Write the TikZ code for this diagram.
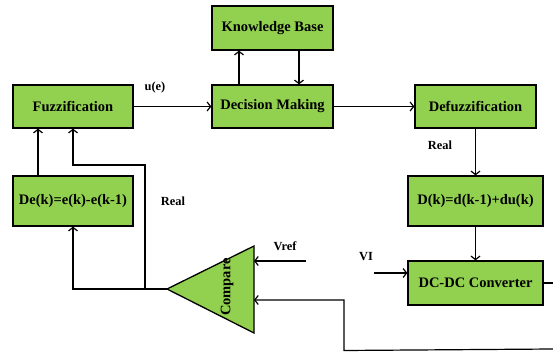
\documentclass[tikz,border=0pt]{standalone}
\usepackage{fontspec}
\setmainfont{Liberation Serif}
\usetikzlibrary{arrows.meta}
\definecolor{blockgreen}{RGB}{146,208,80}
\tikzset{
  block/.style={draw=black, line width=1.3pt, fill=blockgreen, inner sep=0pt,
    font=\fontsize{14.5}{16}\selectfont\bfseries, align=center},
  wire/.style={draw=black, line width=1.2pt},
  arr/.style={wire, -{Straight Barb[length=3.5pt,width=9pt,line width=1.2pt]}},
  lbl/.style={font=\fontsize{12.4}{14}\selectfont\bfseries, inner sep=0pt}
}
\begin{document}
\begin{tikzpicture}[x=1pt,y=-1pt]
\useasboundingbox (0,0) rectangle (553,352);

% blocks
\node[block, minimum width=121pt, minimum height=44pt] (kb) at (272.5,28) {Knowledge Base};
\node[block, minimum width=120pt, minimum height=43pt] (fuzz) at (73,106.5) {Fuzzification};
\node[block, minimum width=121pt, minimum height=43pt] (dm) at (272.5,106.5) {Decision Making};
\node[block, minimum width=121pt, minimum height=43pt] (defuzz) at (475.5,106.5) {Defuzzification};
\node[block, minimum width=120pt, minimum height=50pt] (de) at (73,201) {De(k)=e(k)-e(k-1)};
\node[block, minimum width=135pt, minimum height=50pt] (dk) at (475.5,201) {D(k)=d(k-1)+du(k)};
\node[block, minimum width=135pt, minimum height=44pt] (conv) at (475.5,283) {DC-DC Converter};

% comparator triangle
\coordinate (apex) at (167,289);
\coordinate (ctop) at (254,246);
\coordinate (cbot) at (254,333);
\filldraw[fill=blockgreen, draw=black, line width=1.3pt, line join=miter] (apex) -- (ctop) -- (cbot) -- cycle;
\node[rotate=90, font=\fontsize{14.5}{16}\selectfont\bfseries, inner sep=0pt] (cmp) at (227,287) {Compare};
\coordinate (inref) at (254,261);
\coordinate (infb) at (254,300);

% forward path
\draw[arr] (fuzz.east) -- (dm.west);
\draw[arr] (dm.north -| 239,0) -- (kb.south -| 239,0);
\draw[arr] (kb.south -| 299,0) -- (dm.north -| 299,0);
\draw[arr] (dm.east) -- (defuzz.west);
\draw[arr] (defuzz.south) -- (dk.north);
\draw[arr] (dk.south) -- (conv.north);
\coordinate (vistart) at (374,273);
\draw[arr] (vistart) -- (vistart -| conv.west);

% converter output and feedback to the comparator
\coordinate (outend) at (553,283);
\draw[wire] (conv.east |- outend) -- (outend);
\coordinate (fbright) at (553,349);
\coordinate (fbcorner) at (344,350.5);
\draw[arr] (fbright) -- (fbcorner) -- (fbcorner |- infb) -- (infb);

% reference input
\coordinate (refstart) at (306,261);
\draw[arr] (refstart) -- (inref);

% error feedback into the fuzzy controller
\coordinate (jn) at (145,289);
\coordinate (upper) at (145,165);
\draw[arr] (apex) -| (de.south);
\draw[arr] (jn) -- (upper) -| (fuzz.south);
\draw[arr] (de.north -| 38,0) -- (fuzz.south -| 38,0);

% labels
\node[lbl] (lue) at (155,88) {u(e)};
\node[lbl] (lreal1) at (440,145) {Real};
\node[lbl] (lreal2) at (173,201) {Real};
\node[lbl] (lvref) at (285,246) {Vref};
\node[lbl] (lvi) at (366,257) {VI};
\end{tikzpicture}
\end{document}
